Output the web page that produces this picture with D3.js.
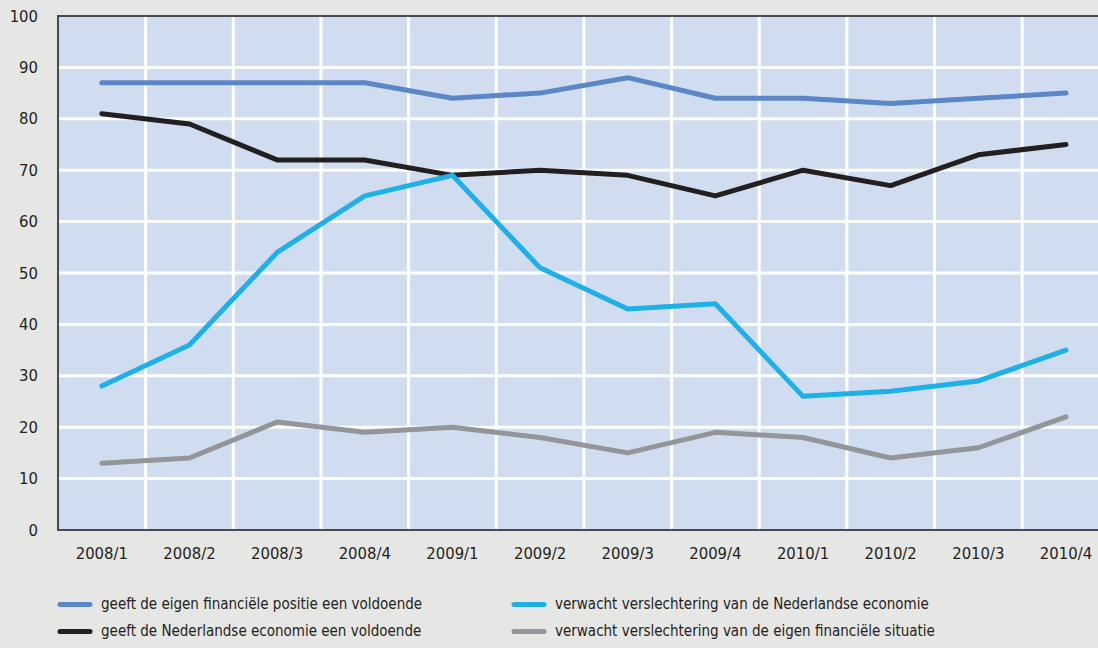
<!DOCTYPE html>
<meta charset="utf-8">
<script src="https://d3js.org/d3.v7.min.js"></script>
<style>
  body { margin: 0; background: #e6e6e4; }
  svg { display: block; }
  text { font-family: "Liberation Sans Narrow", "DejaVu Sans Condensed", "Roboto Condensed", sans-serif; fill: #231f20; }
</style>
<div id="chart"></div>
<script>
var categories = ["2008/1","2008/2","2008/3","2008/4","2009/1","2009/2","2009/3","2009/4","2010/1","2010/2","2010/3","2010/4"];
var yTicks = [0,10,20,30,40,50,60,70,80,90,100];

var seriesNames = [
  "geeft de eigen financiële positie een voldoende",
  "geeft de Nederlandse economie een voldoende",
  "verwacht verslechtering van de Nederlandse economie",
  "verwacht verslechtering van de eigen financiële situatie"
];
var eigenPositie = [87,87,87,87,84,85,88,84,84,83,84,85];
var economie     = [81,79,72,72,69,70,69,65,70,67,73,75];
var verslEcon    = [28,36,54,65,69,51,43,44,26,27,29,35];
var verslEigen   = [13,14,21,19,20,18,15,19,18,14,16,22];
var seriesColors = ["#5b87c8","#231f20","#1eb0e6","#939598"];

var W = 1098, H = 648;
var plotLeft = 58, plotTop = 16, plotBottom = 530;
var bw = 87.65;
var plotRight = plotLeft + bw * categories.length;

var svg = d3.select("#chart").append("svg").attr("width", W).attr("height", H);

var x = d3.scaleBand().domain(categories).range([plotLeft, plotRight]);
var y = d3.scaleLinear().domain([0, 100]).range([plotBottom, plotTop]);

// plot background
svg.append("rect")
  .attr("x", plotLeft).attr("y", plotTop)
  .attr("width", plotRight - plotLeft).attr("height", plotBottom - plotTop)
  .attr("fill", "#d0ddf0");

// grid
svg.append("g").selectAll("line")
  .data(yTicks.slice(1, -1)).enter().append("line")
  .attr("x1", plotLeft).attr("x2", plotRight)
  .attr("y1", d => y(d)).attr("y2", d => y(d))
  .attr("stroke", "#fff").attr("stroke-width", 3);

svg.append("g").selectAll("line")
  .data(categories.slice(1)).enter().append("line")
  .attr("x1", d => x(d)).attr("x2", d => x(d))
  .attr("y1", plotTop).attr("y2", plotBottom)
  .attr("stroke", "#fff").attr("stroke-width", 3);

// frame
svg.append("path")
  .attr("d", "M" + plotRight + "," + plotTop + "H" + plotLeft + "V" + plotBottom + "H" + plotRight)
  .attr("fill", "none").attr("stroke", "#4a4a4c").attr("stroke-width", 2);

// y labels
svg.append("g").selectAll("text")
  .data(yTicks).enter().append("text")
  .attr("x", 38).attr("y", d => y(d) + 5.5)
  .attr("text-anchor", "end")
  .style("font-size", "16.5px")
  .text(d => d);

// x labels
svg.append("g").selectAll("text")
  .data(categories).enter().append("text")
  .attr("x", d => x(d) + x.bandwidth() / 2).attr("y", 559)
  .attr("text-anchor", "middle")
  .style("font-size", "16.5px")
  .text(d => d);

// lines
var allSeries = [eigenPositie, economie, verslEcon, verslEigen];
var line = d3.line()
  .x((d, i) => x(categories[i]) + x.bandwidth() / 2)
  .y(d => y(d));

allSeries.forEach(function(s, k) {
  svg.append("path")
    .datum(s)
    .attr("d", line)
    .attr("fill", "none")
    .attr("stroke", seriesColors[k])
    .attr("stroke-width", 5)
    .attr("stroke-linejoin", "round")
    .attr("stroke-linecap", "round");
});

// legend
var legendPos = [[58, 609], [58, 636], [512, 609], [512, 636]];
seriesNames.forEach(function(name, k) {
  var g = svg.append("g").attr("transform", "translate(" + legendPos[k][0] + "," + legendPos[k][1] + ")");
  g.append("line")
    .attr("x1", 2).attr("x2", 32).attr("y1", -4.5).attr("y2", -4.5)
    .attr("stroke", seriesColors[k]).attr("stroke-width", 5).attr("stroke-linecap", "round");
  g.append("text")
    .attr("x", 43).attr("y", 0)
    .style("font-size", "15px")
    .text(name);
});
</script>
